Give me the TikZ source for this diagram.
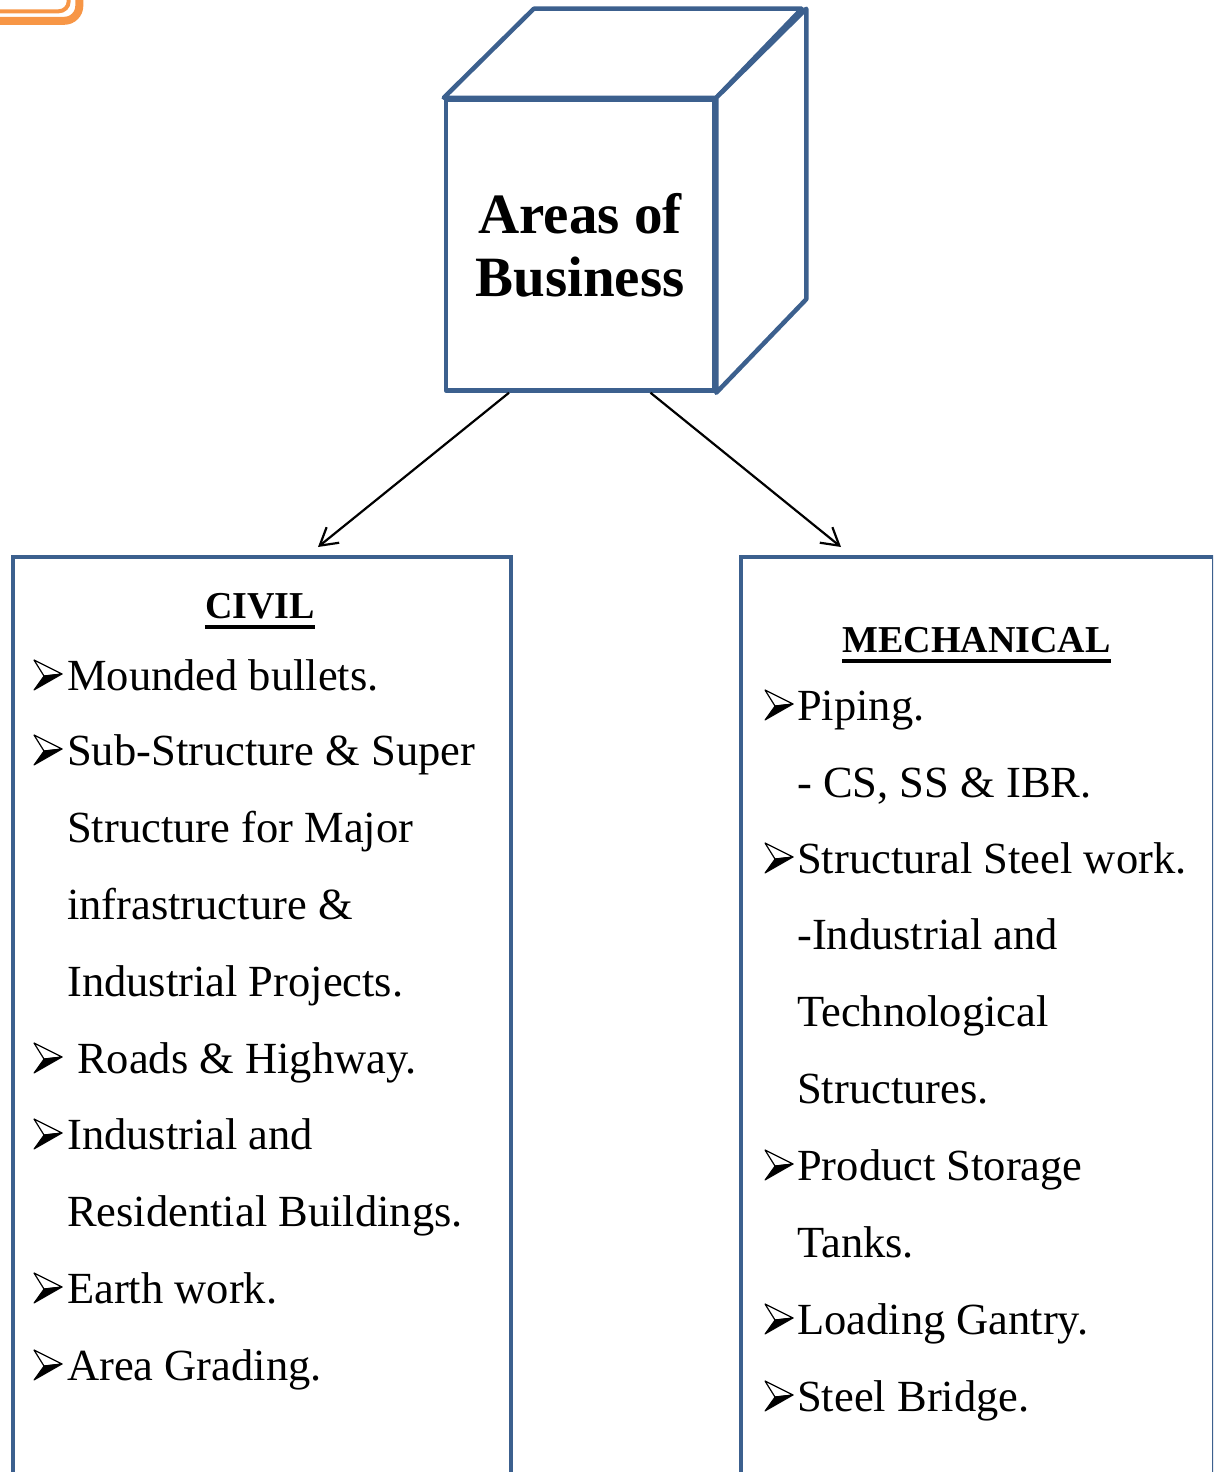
\documentclass[tikz,border=0pt]{standalone}
\usepackage{fontspec}
\setmainfont{Liberation Serif}
\usepackage{tikz}
\usetikzlibrary{arrows.meta}
\usepackage{xcolor}
\definecolor{ColBox}{RGB}{60,96,142}
\definecolor{ColTab}{RGB}{247,150,70}
\tikzstyle{CubeFace}=[draw=ColBox,line width=4.5pt,fill=white,line join=round]
\tikzstyle{ListBox}=[draw=ColBox,line width=4pt,inner sep=0pt,anchor=north west]
\tikzstyle{Link}=[black,line width=2.2pt,-{Straight Barb[length=17pt,width=20pt]}]
\tikzstyle{Head}=[inner sep=0pt,anchor=base,font=\fontsize{38}{44}\selectfont\bfseries]
\tikzstyle{Item}=[inner sep=0pt,anchor=base west,font=\fontsize{44.5}{53}\selectfont]
\tikzset{ItemMark/.pic={
    \filldraw[black,line width=1pt,line join=round](10,-14)--(28,-16)--(0,0)--cycle;
    \draw[black,line width=1.2pt,line join=round](0,-30)--(28,-16)--(10,-14)--cycle;
}}

\begin{document}
\begin{tikzpicture}[x=1pt,y=-1pt]
        \useasboundingbox(0,0)rectangle(1213,1472);
        \clip(0,0)rectangle(1213,1472);
        % corner of the tab above
        \draw[ColTab,line width=8pt,rounded corners=15pt](-10,20.8)-|(79.3,-10);
        \draw[ColTab,line width=4pt,rounded corners=10pt](-10,11.3)-|(68.7,-10);
        % the cube
        \node[CubeFace,minimum width=268pt,minimum height=290.5pt,align=center,
            font=\fontsize{57}{63}\selectfont\bfseries](front)at(580,245.25){Areas of\\Business};
        \draw[CubeFace](front.north west)--++(90,-89)--++(268,0)--(front.north east)--cycle;
        \draw[CubeFace](front.north east)--++(90,-89)--++(0,290.5)--(front.south east)--cycle;
        % the two lists
        \node[ListBox,minimum width=498pt,minimum height=1000pt](civil)at(11,555){};
        \node[ListBox,minimum width=473pt,minimum height=1000pt](mech)at(739,555){};
        \coordinate(civiltip)at(318,547);
        \coordinate(mechtip)at(841,547);
        \draw[Link]([xshift=-71pt]front.south)--(civiltip);
        \draw[Link]([xshift=70.5pt]front.south)--(mechtip);
        % civil
        \node[Head](civilhd)at(260,618){CIVIL};
        \draw[line width=3.5pt]([yshift=-9pt]civilhd.base west)--([yshift=-9pt]civilhd.base east);
        \pic at(34,690){ItemMark};
        \node[Item](c1)at(67,690){Mounded bullets.};
        \pic at(34,765){ItemMark};
        \node[Item](c2)at(67,765){Sub-Structure \& Super};
        \node[Item](c3)at(67,842){Structure for Major};
        \node[Item](c4)at(67,919){infrastructure \&};
        \node[Item](c5)at(67,996){Industrial Projects.};
        \pic at(34,1073){ItemMark};
        \node[Item](c6)at(77,1073){Roads \& Highway.};
        \pic at(34,1149){ItemMark};
        \node[Item](c7)at(67,1149){Industrial and};
        \node[Item](c8)at(67,1226){Residential Buildings.};
        \pic at(34,1303){ItemMark};
        \node[Item](c9)at(67,1303){Earth work.};
        \pic at(34,1380){ItemMark};
        \node[Item](c10)at(67,1380){Area Grading.};
        % mechanical
        \node[Head](mechhd)at(976.5,652){MECHANICAL};
        \draw[line width=3.5pt]([yshift=-9pt]mechhd.base west)--([yshift=-9pt]mechhd.base east);
        \pic at(765,720){ItemMark};
        \node[Item](m1)at(797,720){Piping.};
        \node[Item](m2)at(797,797){- CS, SS \& IBR.};
        \pic at(765,873){ItemMark};
        \node[Item](m3)at(797,873){Structural Steel work.};
        \node[Item](m4)at(797,949){-Industrial and};
        \node[Item](m5)at(797,1026){Technological};
        \node[Item](m6)at(797,1103){Structures.};
        \pic at(765,1180){ItemMark};
        \node[Item](m7)at(797,1180){Product Storage};
        \node[Item](m8)at(797,1257){Tanks.};
        \pic at(765,1334){ItemMark};
        \node[Item](m9)at(797,1334){Loading Gantry.};
        \pic at(765,1411){ItemMark};
        \node[Item](m10)at(797,1411){Steel Bridge.};
    \end{tikzpicture}
\end{document}
